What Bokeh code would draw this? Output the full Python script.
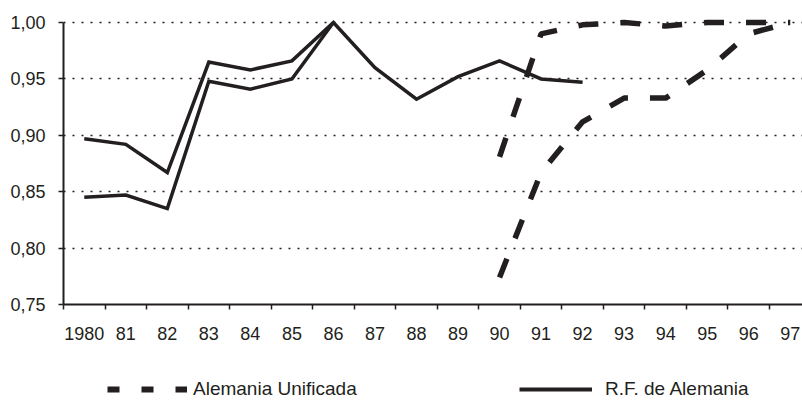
from bokeh.plotting import figure
from bokeh.layouts import column
from bokeh.models import Range1d, FixedTicker, Legend, LegendItem, ColumnDataSource
from bokeh.embed import file_html
from bokeh.resources import INLINE

# ---- data ----
years = ["1980", "81", "82", "83", "84", "85", "86", "87", "88", "89",
         "90", "91", "92", "93", "94", "95", "96", "97"]

rfa_a_years = years[0:13]
rfa_a = [0.897, 0.892, 0.867, 0.965, 0.958, 0.966, 1.000, 0.960, 0.932, 0.952, 0.966, 0.950, 0.947]
rfa_b_years = years[0:7]
rfa_b = [0.845, 0.847, 0.835, 0.948, 0.941, 0.950, 1.000]

uni_years = years[10:18]
uni_a = [0.881, 0.990, 0.998, 1.000, 0.997, 1.000, 1.000, 1.000]
uni_b = [0.774, 0.867, 0.912, 0.933, 0.933, 0.958, 0.990, 1.000]

y_ticks = [0.75, 0.80, 0.85, 0.90, 0.95, 1.00]
y_labels = ["0,75", "0,80", "0,85", "0,90", "0,95", "1,00"]

label_uni = "Alemania Unificada"
label_rfa = "R.F. de Alemania"

# ---- helpers ----
INK = "#231f20"
FONT = "Liberation Sans"
centre = {yr: i + 0.5 for i, yr in enumerate(years)}


def xs(yrs):
    return [centre[y] for y in yrs]


p = figure(width=802, height=360,
           x_range=Range1d(0, 17.795), y_range=Range1d(0.75, 1.0107),
           output_backend="svg", toolbar_location=None,
           min_border_left=63, min_border_right=0,
           min_border_top=10, min_border_bottom=56)
p.outline_line_color = None
p.background_fill_color = "white"
p.border_fill_color = "white"

# x axis: labels at category centres, tick marks at boundaries
xa = p.xaxis[0]
xa.ticker = FixedTicker(ticks=[centre[y] for y in years],
                        minor_ticks=list(range(0, len(years) + 1)))
xa.major_label_overrides = {centre[y]: y for y in years}
xa.major_tick_line_color = None
xa.major_tick_out = 0
xa.major_tick_in = 0
xa.minor_tick_out = 5
xa.minor_tick_in = 0
xa.minor_tick_line_color = INK
xa.minor_tick_line_width = 1.5
xa.axis_line_color = INK
xa.axis_line_width = 2
xa.major_label_text_font = FONT
xa.major_label_text_font_size = "18px"
xa.major_label_text_color = INK
xa.major_label_standoff = 17

ya = p.yaxis[0]
ya.ticker = FixedTicker(ticks=y_ticks, minor_ticks=[])
ya.major_label_overrides = dict(zip(y_ticks, y_labels))
ya.bounds = (y_ticks[0], y_ticks[-1])
ya.major_tick_out = 5
ya.major_tick_in = 0
ya.major_tick_line_color = INK
ya.major_tick_line_width = 1.5
ya.axis_line_color = INK
ya.axis_line_width = 2
ya.major_label_text_font = FONT
ya.major_label_text_font_size = "18px"
ya.major_label_text_color = INK
ya.major_label_standoff = 13

p.xgrid.visible = False
p.ygrid.ticker = FixedTicker(ticks=y_ticks[1:], minor_ticks=[])
p.ygrid.grid_line_color = INK
p.ygrid.grid_line_width = 1.6
p.ygrid.grid_line_dash = "2 7"

# ---- series ----
p.line(xs(rfa_a_years), rfa_a, line_width=3.5, color=INK, line_join="miter")
p.line(xs(rfa_b_years), rfa_b, line_width=3.5, color=INK, line_join="miter")
p.line(xs(uni_years), uni_a, line_width=5.5, color=INK, line_dash="20 22")
p.line(xs(uni_years), uni_b, line_width=5.5, color=INK, line_dash="20 22")

# ---- legend strip (separate figure so it is not clipped by the chart frame) ----
lg = figure(width=802, height=42, x_range=Range1d(0, 1), y_range=Range1d(0, 1),
            output_backend="svg", toolbar_location=None,
            min_border_left=0, min_border_right=0, min_border_top=0, min_border_bottom=0)
lg.axis.visible = False
lg.grid.visible = False
lg.outline_line_color = None
lg.background_fill_color = "white"
lg.border_fill_color = "white"

# legend-sample renderers: their single point lies outside this strip's range, so only the legend shows them
uni_src = ColumnDataSource(data=dict(x=xs(uni_years)[:1], y=uni_a[:1]))
rfa_src = ColumnDataSource(data=dict(x=xs(rfa_a_years)[:1], y=rfa_a[:1]))
r_leg_dash = lg.line("x", "y", source=uni_src, line_width=6, color=INK, line_dash="12 22")
r_leg_solid = lg.line("x", "y", source=rfa_src, line_width=4, color=INK)


def make_legend(label, rend, loc, width, standoff):
    return Legend(items=[LegendItem(label=label, renderers=[rend])],
                  location=loc, glyph_width=width, glyph_height=20,
                  label_standoff=standoff, padding=0, margin=0,
                  border_line_color=None, background_fill_alpha=0,
                  label_text_font=FONT, label_text_font_size="19px",
                  label_text_color=INK)


# the strip's frame is aligned with the chart frame (left edge at 63 px)
lg.add_layout(make_legend(label_uni, r_leg_dash, (44, 2), 80, 6))
lg.add_layout(make_legend(label_rfa, r_leg_solid, (456, 2), 73, 13))

page = column(p, lg, spacing=0)
open("out.html", "w").write(file_html(page, INLINE))
